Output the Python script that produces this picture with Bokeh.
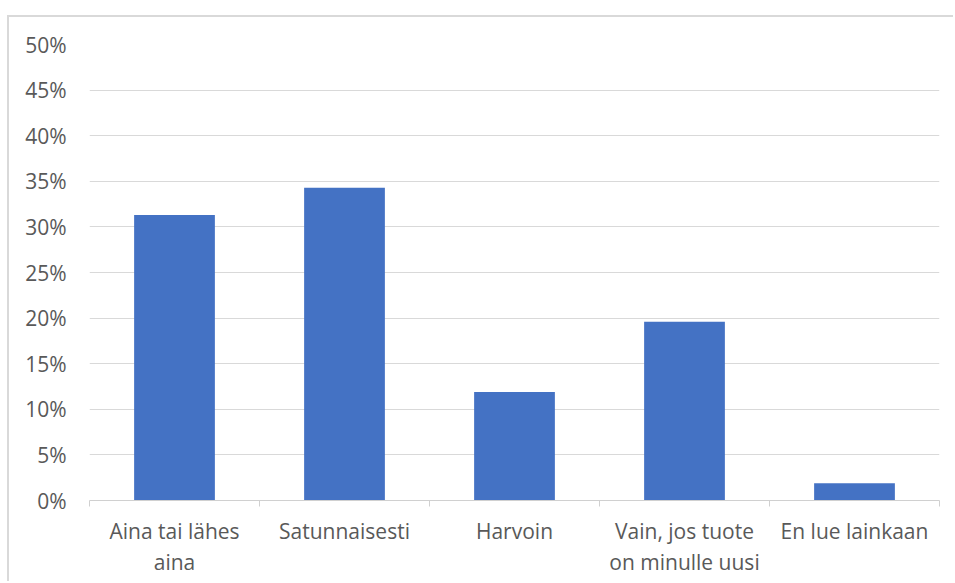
from bokeh.plotting import figure
from bokeh.models import ColumnDataSource, FixedTicker, PrintfTickFormatter, Range1d, LinearAxis
from bokeh.embed import file_html
from bokeh.resources import INLINE

# category labels, split into their two printed lines
label_line1 = ["Aina tai lähes", "Satunnaisesti", "Harvoin", "Vain, jos tuote", "En lue lainkaan"]
label_line2 = ["aina", "", "", "on minulle uusi", ""]
values = [31.3, 34.3, 11.9, 19.6, 1.9]
y_ticks = [0, 5, 10, 15, 20, 25, 30, 35, 40, 45, 50]

n = len(values)
centers = [i + 0.5 for i in range(n)]
bounds = list(range(n + 1))

src = ColumnDataSource(dict(x=centers, top=values))

FONT = "Open Sans"
FSIZE = "21px"
TXT = "#595959"

p = figure(width=946, height=566, output_backend="svg", toolbar_location=None,
           x_range=Range1d(0, n), y_range=Range1d(0, 50),
           min_border_left=80, min_border_right=16, min_border_top=27, min_border_bottom=83)
p.margin = (15, 0, 0, 7)
p.styles = {"border-left": "2px solid #d9d9d9", "border-top": "2px solid #d9d9d9"}
p.outline_line_color = None
p.background_fill_color = "white"
p.border_fill_color = "white"

p.vbar(x="x", top="top", width=0.475, bottom=0, source=src, color="#4472C4", line_color=None)

p.xgrid.visible = False
p.ygrid.ticker = FixedTicker(ticks=y_ticks)
p.ygrid.grid_line_color = "#d9d9d9"
p.ygrid.grid_line_width = 1

ya = p.yaxis[0]
ya.ticker = FixedTicker(ticks=y_ticks)
ya.formatter = PrintfTickFormatter(format="%d%%")
ya.axis_line_color = None
ya.major_tick_line_color = None
ya.minor_tick_line_color = None
ya.major_tick_out = 0
ya.major_label_standoff = 23
ya.major_label_text_font = FONT
ya.major_label_text_font_size = FSIZE
ya.major_label_text_color = TXT

xa = p.xaxis[0]
xa.ticker = FixedTicker(ticks=centers, minor_ticks=bounds)
xa.major_label_overrides = {c: lab for c, lab in zip(centers, label_line1)}
xa.axis_line_color = "#d0d0d0"
xa.axis_line_width = 1
xa.major_tick_line_color = None
xa.major_tick_out = 0
xa.minor_tick_line_color = "#d0d0d0"
xa.minor_tick_in = 0
xa.minor_tick_out = 6
xa.major_label_standoff = 10
xa.major_label_text_font = FONT
xa.major_label_text_font_size = FSIZE
xa.major_label_text_color = TXT

xa2 = LinearAxis(ticker=FixedTicker(ticks=centers),
                 major_label_overrides={c: lab for c, lab in zip(centers, label_line2)})
xa2.axis_line_color = None
xa2.major_tick_line_color = None
xa2.minor_tick_line_color = None
xa2.major_tick_out = 0
xa2.major_tick_in = 0
xa2.major_label_standoff = 0
xa2.major_label_text_font = FONT
xa2.major_label_text_font_size = FSIZE
xa2.major_label_text_color = TXT
p.add_layout(xa2, "below")

open("out.html", "w").write(file_html(p, INLINE))
